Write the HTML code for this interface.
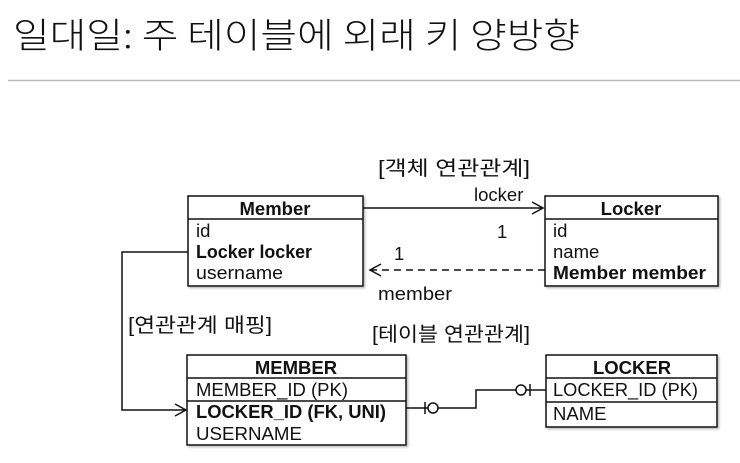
<!DOCTYPE html>
<html><head><meta charset="utf-8"><style>
html,body{margin:0;padding:0;background:#fff;width:740px;height:463px;overflow:hidden}
svg text{font-family:"Liberation Sans","Noto Sans CJK KR",sans-serif;fill:#111}
</style></head><body>
<svg width="740" height="463" viewBox="0 0 740 463" xmlns="http://www.w3.org/2000/svg">
<text x="13" y="48" font-size="35" style="font-family:'Noto Sans CJK KR',sans-serif;font-weight:300" textLength="567" lengthAdjust="spacingAndGlyphs">일대일: 주 테이블에 외래 키 양방향</text>
<line x1="8" y1="80.5" x2="740" y2="80.5" stroke="#bbb" stroke-width="1.5"/>
<defs><filter id="sh"><feDropShadow dx="1.5" dy="1.5" stdDeviation="1" flood-color="#888" flood-opacity="0.6"/></filter></defs>
<g fill="#fff" stroke="#111" stroke-width="1.5" filter="url(#sh)">
<rect x="188" y="196" width="175" height="90"/>
<rect x="545" y="196" width="173" height="90"/>
<rect x="187" y="355" width="219" height="90"/>
<rect x="546" y="355" width="171" height="72"/>
</g>
<g stroke="#111" stroke-width="1.5">
<line x1="188" y1="219" x2="363" y2="219"/>
<line x1="545" y1="219" x2="718" y2="219"/>
<line x1="187" y1="378" x2="406" y2="378"/>
<line x1="187" y1="401" x2="406" y2="401"/>
<line x1="546" y1="378" x2="717" y2="378"/>
<line x1="546" y1="402" x2="717" y2="402"/>
</g>
<g font-size="18.5" lengthAdjust="spacingAndGlyphs">
<text x="275" y="215" text-anchor="middle" font-weight="bold">Member</text>
<text x="196" y="237" fill="#333">id</text>
<text x="196" y="258" font-weight="bold" textLength="116" lengthAdjust="spacingAndGlyphs">Locker locker</text>
<text x="196" y="279" fill="#333" textLength="87" lengthAdjust="spacingAndGlyphs">username</text>
<text x="631" y="215" text-anchor="middle" font-weight="bold">Locker</text>
<text x="553" y="237" fill="#333">id</text>
<text x="553" y="258" fill="#333">name</text>
<text x="553" y="279" font-weight="bold" textLength="153" lengthAdjust="spacingAndGlyphs">Member member</text>
<text x="296" y="374" text-anchor="middle" font-weight="bold">MEMBER</text>
<text x="196" y="396" fill="#333" textLength="152" lengthAdjust="spacingAndGlyphs">MEMBER_ID (PK)</text>
<text x="196" y="418" font-weight="bold" textLength="190" lengthAdjust="spacingAndGlyphs">LOCKER_ID (FK, UNI)</text>
<text x="196" y="440" fill="#333" textLength="106" lengthAdjust="spacingAndGlyphs">USERNAME</text>
<text x="632" y="374" text-anchor="middle" font-weight="bold">LOCKER</text>
<text x="553" y="396" fill="#333" textLength="145" lengthAdjust="spacingAndGlyphs">LOCKER_ID (PK)</text>
<text x="553" y="420" fill="#333">NAME</text>
<text x="378" y="175" fill="#333" font-size="20" textLength="152" lengthAdjust="spacingAndGlyphs">[객체 연관관계]</text>
<text x="474" y="201" fill="#333">locker</text>
<text x="497" y="238" fill="#333">1</text>
<text x="394" y="260" fill="#333">1</text>
<text x="378" y="300" fill="#333" textLength="74" lengthAdjust="spacingAndGlyphs">member</text>
<text x="128" y="332" fill="#333" font-size="20" textLength="144" lengthAdjust="spacingAndGlyphs">[연관관계 매핑]</text>
<text x="372" y="341" fill="#333" font-size="20" textLength="158" lengthAdjust="spacingAndGlyphs">[테이블 연관관계]</text>
</g>
<g stroke="#111" stroke-width="1.5" fill="none">
<line x1="363" y1="208" x2="543" y2="208"/>
<polyline points="532,202 543,208 532,214"/>
<line x1="545" y1="270" x2="370" y2="270" stroke-dasharray="7,5"/>
<polyline points="381,264 370,270 381,276"/>
<polyline points="188,252 122,252 122,410 186,410"/>
<polyline points="175,404 186,410 175,416"/>
<polyline points="406,408 476,408 476,390 546,390"/>
<line x1="425" y1="402" x2="425" y2="414"/>
<circle cx="433" cy="408" r="5" fill="#fff"/>
<line x1="530" y1="384" x2="530" y2="396"/>
<circle cx="521" cy="390" r="5" fill="#fff"/>
</g>
</svg>
</body></html>
